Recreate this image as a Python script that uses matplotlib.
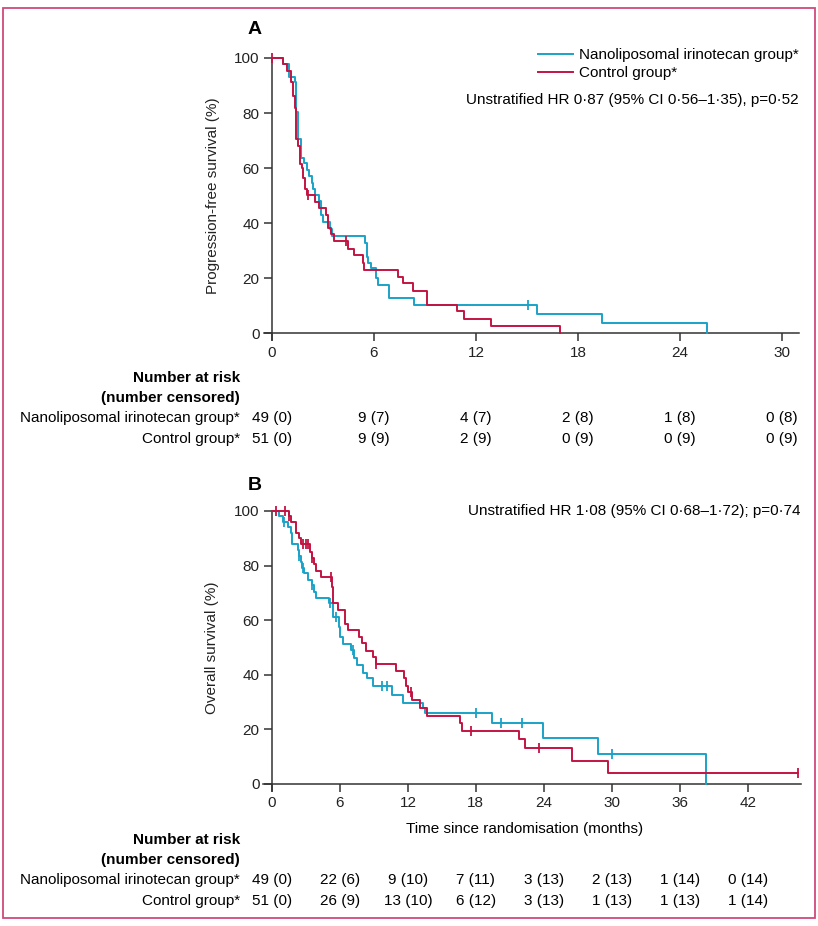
import matplotlib
matplotlib.use("Agg")
import matplotlib.pyplot as plt
from matplotlib.lines import Line2D
from matplotlib.patches import Rectangle
from matplotlib.transforms import blended_transform_factory

plt.rcParams["font.family"] = ["Liberation Sans Narrow", "Liberation Sans", "DejaVu Sans"]

BLUE = "#1aa3c8"
RED = "#c21443"
AXC = "#333333"

# ---- Panel A: progression-free survival (months, %)
pfs_nal_t = [0, 0.63, 1.02, 1.35, 1.41, 1.55, 1.69, 1.90, 2.04, 2.20, 2.33, 2.43, 2.53,
             2.78, 2.88, 3.02, 3.40, 3.51, 5.47, 5.57, 5.67, 5.82, 6.12, 6.25, 6.90, 8.37,
             15.6, 19.4, 25.6]
pfs_nal_s = [100, 97.8, 93.2, 91.1, 80.2, 70.7, 63.7, 61.9, 59.4, 57.0, 54.6, 52.2, 50.1,
             48.0, 43.0, 40.3, 37.8, 35.4, 32.7, 27.8, 25.4, 23.5, 19.9, 17.4, 12.9, 10.2,
             6.8, 3.5, 0]
pfs_nal_cens_t = [15.04]
pfs_nal_cens_s = [10.2]

pfs_ctl_t = [0, 0.63, 0.90, 1.10, 1.25, 1.33, 1.41, 1.51, 1.65, 1.75, 1.84, 1.94, 2.04,
             2.53, 2.78, 3.18, 3.31, 3.45, 3.65, 4.49, 4.84, 5.33, 5.43, 7.39, 7.73, 8.27,
             9.14, 10.86, 11.3, 12.88, 16.94]
pfs_ctl_s = [100, 97.8, 95.4, 91.1, 86.2, 82.0, 70.4, 68.0, 61.3, 60.1, 56.4, 52.4, 50.1,
             47.7, 45.5, 42.8, 38.2, 36.0, 33.5, 30.7, 28.5, 25.6, 23.0, 20.5, 18.1, 15.4,
             10.2, 8.0, 5.2, 2.7, 0]
pfs_ctl_cens_t = [0, 2.14, 4.35]
pfs_ctl_cens_s = [100, 50.1, 33.5]

pfs_risk_t = [0, 6, 12, 18, 24, 30]
pfs_risk_nal = ["49 (0)", "9 (7)", "4 (7)", "2 (8)", "1 (8)", "0 (8)"]
pfs_risk_ctl = ["51 (0)", "9 (9)", "2 (9)", "0 (9)", "0 (9)", "0 (9)"]

# ---- Panel B: overall survival (months, %)
os_nal_t = [0, 0.65, 0.94, 1.38, 1.68, 1.79, 2.27, 2.41, 2.53, 2.68, 2.85, 3.15, 3.50,
            3.74, 3.88, 5.03, 5.35, 5.91, 6.00, 6.24, 6.97, 7.27, 7.53, 8.06, 8.36, 8.94,
            10.56, 11.6, 13.36, 13.5, 19.4, 23.9, 28.8, 38.3]
os_nal_s = [100, 98.3, 96.1, 94.3, 91.8, 87.8, 85.7, 83.5, 81.4, 79.0, 77.2, 74.7, 72.9,
            70.4, 68.0, 66.2, 61.3, 57.6, 54.0, 51.3, 49.1, 46.0, 43.6, 40.8, 38.7, 36.0,
            32.6, 29.6, 27.7, 26.1, 22.5, 16.7, 11.0, 0]
os_nal_cens_t = [1.09, 2.41, 2.71, 3.56, 5.12, 5.65, 7.12, 9.68, 10.12, 18.0, 20.2, 22.1, 30.0]
os_nal_cens_s = [96.1, 83.5, 79.0, 72.9, 66.2, 61.3, 49.1, 36.0, 36.0, 26.1, 22.5, 22.5, 11.0]

os_ctl_t = [0, 1.53, 1.68, 2.12, 2.38, 2.53, 3.35, 3.50, 3.74, 3.85, 4.32, 5.32, 5.41,
            5.80, 6.44, 6.68, 7.68, 7.91, 8.27, 8.94, 9.15, 10.92, 11.65, 11.8, 11.97,
            12.4, 13.06, 13.65, 16.6, 16.8, 21.8, 22.3, 26.5, 29.7, 46.4]
os_ctl_s = [100, 98.3, 96.1, 91.8, 90.0, 87.8, 85.1, 82.9, 80.5, 78.0, 75.9, 72.3, 66.2,
            63.7, 58.6, 56.4, 53.7, 51.5, 48.8, 46.4, 44.0, 41.4, 38.7, 36.0, 33.8,
            30.8, 28.0, 25.0, 22.5, 19.5, 16.4, 13.1, 8.5, 4.2, 4.2]
os_ctl_cens_t = [0.35, 1.15, 1.53, 2.77, 3.0, 3.2, 3.56, 5.21, 9.15, 12.27, 17.6, 23.6, 46.4]
os_ctl_cens_s = [100, 100, 98.3, 87.8, 87.8, 87.8, 82.9, 75.9, 44.0, 33.8, 19.5, 13.1, 4.2]

os_risk_t = [0, 6, 12, 18, 24, 30, 36, 42]
os_risk_nal = ["49 (0)", "22 (6)", "9 (10)", "7 (11)", "3 (13)", "2 (13)", "1 (14)", "0 (14)"]
os_risk_ctl = ["51 (0)", "26 (9)", "13 (10)", "6 (12)", "3 (13)", "1 (13)", "1 (13)", "1 (14)"]

W, H = 818, 926
fig = plt.figure(figsize=(W / 100, H / 100), dpi=100)


def fy(py):
    return 1 - py / H


def fx(px):
    return px / W


def style_axes(ax, xmax, xticks, ylabel):
    ax.set_xlim(xmax[0], xmax[1])
    ax.set_ylim(-2.5, 100)
    for s in ["top", "right"]:
        ax.spines[s].set_visible(False)
    ax.spines["left"].set_position(("data", 0))
    ax.spines["bottom"].set_position(("data", 0))
    for s in ["left", "bottom"]:
        ax.spines[s].set_color(AXC)
        ax.spines[s].set_linewidth(1.1)
    ax.set_xticks(xticks)
    ax.set_yticks([0, 20, 40, 60, 80, 100])
    ax.tick_params(direction="out", length=6, width=1.1, color=AXC,
                   labelsize=11, labelcolor="#222222", pad=3)
    ax.set_ylabel(ylabel, fontsize=11, color="#222222")
    ax.yaxis.set_label_coords(-0.081, 0.512)
    ax.patch.set_visible(False)


def km(ax, t, s, ct, cs, color):
    ax.step(t, s, where="post", color=color, lw=1.4, clip_on=False, zorder=3)
    ax.plot(ct, cs, ls="none", marker="|", ms=7, mew=1.3, color=color,
            clip_on=False, zorder=4)


def risk_table(ax, times, nal, ctl, rows_py):
    tr = blended_transform_factory(ax.transData, fig.transFigure)
    lx = fx(240)
    fig.text(lx, fy(rows_py[0]), "Number at risk", ha="right", va="center",
             fontsize=11, fontweight="bold")
    fig.text(lx, fy(rows_py[1]), "(number censored)", ha="right", va="center",
             fontsize=11, fontweight="bold")
    fig.text(lx, fy(rows_py[2]), "Nanoliposomal irinotecan group*", ha="right",
             va="center", fontsize=11)
    fig.text(lx, fy(rows_py[3]), "Control group*", ha="right", va="center", fontsize=11)
    for x, a, b in zip(times, nal, ctl):
        ax.text(x, fy(rows_py[2]), a, transform=tr, ha="center", va="center", fontsize=11)
        ax.text(x, fy(rows_py[3]), b, transform=tr, ha="center", va="center", fontsize=11)


# Panel A
axA = fig.add_axes([fx(263.5), fy(339.9), fx(799 - 263.5), (339.9 - 58) / H])
style_axes(axA, (-0.5, 31), [0, 6, 12, 18, 24, 30], "Progression-free survival (%)")
km(axA, pfs_nal_t, pfs_nal_s, pfs_nal_cens_t, pfs_nal_cens_s, BLUE)
km(axA, pfs_ctl_t, pfs_ctl_s, pfs_ctl_cens_t, pfs_ctl_cens_s, RED)
handles = [Line2D([], [], color=BLUE, lw=1.4), Line2D([], [], color=RED, lw=1.4)]
axA.legend(handles, ["Nanoliposomal irinotecan group*", "Control group*"],
           loc="upper right", bbox_to_anchor=(1.0, 1.035), frameon=False, fontsize=11,
           handlelength=2.3, handletextpad=0.4, borderpad=0, borderaxespad=0,
           labelspacing=0.25)
axA.text(1.0, 0.851, "Unstratified HR 0·87 (95% CI 0·56–1·35), p=0·52",
         transform=axA.transAxes, ha="right", va="center", fontsize=11)
risk_table(axA, pfs_risk_t, pfs_risk_nal, pfs_risk_ctl, [378, 398, 418, 439])
fig.text(fx(255), fy(30), "A", ha="center", va="center", fontsize=14, fontweight="bold")

# Panel B
axB = fig.add_axes([fx(262.9), fy(790.8), fx(801 - 262.9), (790.8 - 511) / H])
style_axes(axB, (-0.8, 46.7), [0, 6, 12, 18, 24, 30, 36, 42], "Overall survival (%)")
km(axB, os_nal_t, os_nal_s, os_nal_cens_t, os_nal_cens_s, BLUE)
km(axB, os_ctl_t, os_ctl_s, os_ctl_cens_t, os_ctl_cens_s, RED)
axB.text(1.0, 1.0, "Unstratified HR 1·08 (95% CI 0·68–1·72); p=0·74",
         transform=axB.transAxes, ha="right", va="center", fontsize=11)
fig.text(fx(525), fy(829), "Time since randomisation (months)", ha="center",
         va="center", fontsize=11)
risk_table(axB, os_risk_t, os_risk_nal, os_risk_ctl, [840, 860, 880, 901])
fig.text(fx(255), fy(485), "B", ha="center", va="center", fontsize=14, fontweight="bold")

fig.patches.append(Rectangle((fx(3), fy(918)), fx(812), (918 - 8) / H,
                             transform=fig.transFigure, fill=False,
                             edgecolor="#d04a7c", lw=1.3))

fig.savefig("out.png", dpi=100)
